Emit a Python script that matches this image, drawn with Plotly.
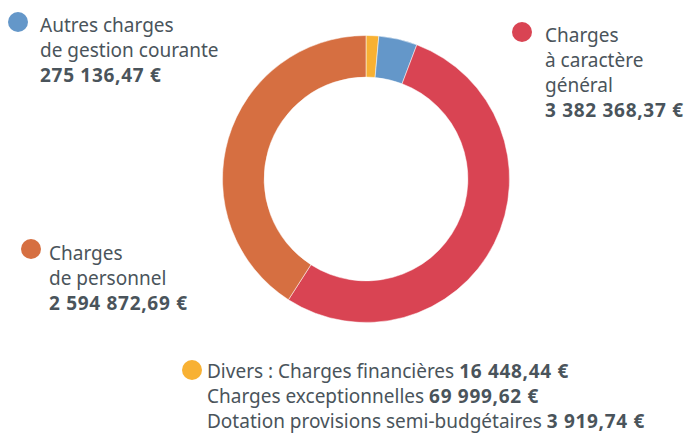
import plotly.graph_objects as go

# Budget expenses by category (euros)
categories = ["Divers", "Autres charges de gestion courante",
              "Charges à caractère général", "Charges de personnel"]
divers_labels = ["Charges financières", "Charges exceptionnelles",
                 "Dotation provisions semi-budgétaires"]
divers_values = [16448.44, 69999.62, 3919.74]
main_values = [275136.47, 3382368.37, 2594872.69]
values = [sum(divers_values)] + main_values
colors = ["#F8B133", "#6497C9", "#D94453", "#D66F41"]

W, H = 687, 434
TXT = "#4A545B"
FONT = "Noto Sans"


def fmt(v):
    s = f"{v:,.2f}"
    ent, dec = s.split(".")
    return ent.replace(",", " ") + "," + dec + " €"


def bold(s):
    return f'<b><span style="letter-spacing:0.7px">{s}</span></b>'


cx, cy, r = 366, 179, 143.5
fig = go.Figure(go.Pie(
    labels=categories, values=values, hole=0.71, sort=False,
    direction="clockwise", rotation=0,
    marker=dict(colors=colors, line=dict(color="white", width=0.5)),
    textinfo="none", hoverinfo="label+value", showlegend=False,
    domain=dict(x=[(cx - r) / W, (cx + r) / W],
                y=[1 - (cy + r) / H, 1 - (cy - r) / H]),
))

annotations = []
shapes = []


def px(x, y):
    return x / W, 1 - y / H


def add_line(x, y, text, size=19):
    ax, ay = px(x, y)
    annotations.append(dict(x=ax, y=ay, xref="paper", yref="paper",
                            xanchor="left", yanchor="middle", showarrow=False,
                            text=text, align="left",
                            font=dict(family=FONT, size=size, color=TXT)))


def add_dot(x, y, color, rad=10):
    x0, y0 = px(x - rad, y + rad)
    x1, y1 = px(x + rad, y - rad)
    shapes.append(dict(type="circle", xref="paper", yref="paper",
                       x0=x0, y0=y0, x1=x1, y1=y1,
                       fillcolor=color, line=dict(width=0)))


LS = 25
# Autres charges de gestion courante
add_dot(18, 22, colors[1])
add_line(38, 25, "Autres charges")
add_line(38, 25 + LS, "de gestion courante")
add_line(38, 25 + 2 * LS, bold(fmt(main_values[0])))

# Charges à caractère général
add_dot(522, 32, colors[2])
add_line(543, 35, "Charges")
add_line(543, 35 + LS, "à caractère")
add_line(543, 35 + 2 * LS, "général")
add_line(543, 35 + 3 * LS, bold(fmt(main_values[1])))

# Charges de personnel
add_dot(31, 249, colors[3])
add_line(47, 253, "Charges")
add_line(47, 253 + LS, "de personnel")
add_line(47, 253 + 2 * LS, bold(fmt(main_values[2])))

# Divers
add_dot(192, 370, colors[0])
add_line(205, 371, f"Divers : {divers_labels[0]} {bold(fmt(divers_values[0]))}")
add_line(205, 371 + LS, f"{divers_labels[1]} {bold(fmt(divers_values[1]))}")
add_line(205, 371 + 2 * LS, f"{divers_labels[2]} {bold(fmt(divers_values[2]))}")

fig.update_layout(width=W, height=H, margin=dict(l=0, r=0, t=0, b=0),
                  paper_bgcolor="white", plot_bgcolor="white",
                  annotations=annotations, shapes=shapes)

fig.write_html("out.html")
